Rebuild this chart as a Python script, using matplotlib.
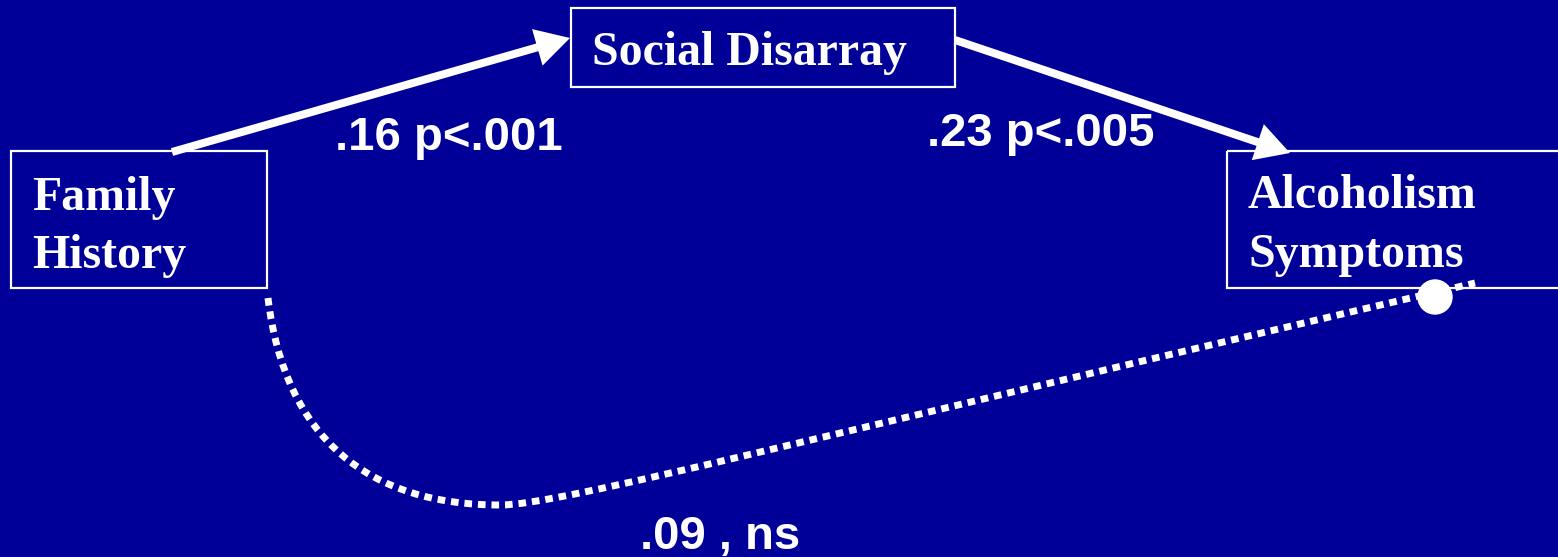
import matplotlib
matplotlib.use('Agg')

import matplotlib.pyplot as plt
from matplotlib.patches import Rectangle, Circle, PathPatch
from matplotlib.path import Path

# Diagram content
node_names = ['Family', 'History', 'Social Disarray', 'Alcoholism', 'Symptoms']
coef_labels = ['.16 p<.001', '.23 p<.005', '.09 , ns']

# Boxes (x, y, w, h) in pixel units
boxes = [(11, 151, 256, 137), (571, 8, 384, 79), (1227, 151, 340, 137)]
# Node text anchors (left x, baseline y)
node_pos = [(32, 210), (32, 268), (592, 65), (1248, 208), (1248, 267)]
coef_pos = [(335, 150), (927, 146), (640, 549)]

# Paths: direct effects (start, end)
arrows = [((172, 152), (570, 38)), ((955, 40), (1290, 153))]
# dotted path family history -> symptoms, two cubic pieces
curve_pts = [(268, 298), (285, 440), (370, 505), (500, 505),
             (560, 505), (800, 440), (1475, 283)]
end_dot = (1435, 297)

bg = '#000099'
W, H = 1558, 557
fig = plt.figure(figsize=(W / 100, H / 100), dpi=100, facecolor=bg)
ax = fig.add_axes([0, 0, 1, 1])
ax.set_facecolor(bg)
ax.set_xlim(0, W)
ax.set_ylim(H, 0)
ax.axis('off')

for (x, y, w, h) in boxes:
    ax.add_patch(Rectangle((x, y), w, h, fill=False, edgecolor='white', lw=1.6))

for name, (x, y) in zip(node_names, node_pos):
    ax.text(x, y, name, color='white', fontsize=34.5, fontweight='bold',
            family='Liberation Serif', ha='left', va='baseline')

for lab, (x, y) in zip(coef_labels, coef_pos):
    ax.text(x, y, lab, color='white', fontsize=34, fontweight='bold',
            family='Liberation Sans', ha='left', va='baseline')

for (x0, y0), (x1, y1) in arrows:
    ax.arrow(x0, y0, x1 - x0, y1 - y0, width=8, head_width=38, head_length=34,
             length_includes_head=True, color='white', lw=0)

codes = [Path.MOVETO] + [Path.CURVE4] * 6
dotted = PathPatch(Path(curve_pts, codes), fill=False, edgecolor='white',
                   lw=5, linestyle=(0, (1.1, 0.85)), capstyle='butt')
ax.add_patch(dotted)
ax.add_patch(Circle(end_dot, 17, color='white'))

plt.savefig('out.png', dpi=100, facecolor=bg)
